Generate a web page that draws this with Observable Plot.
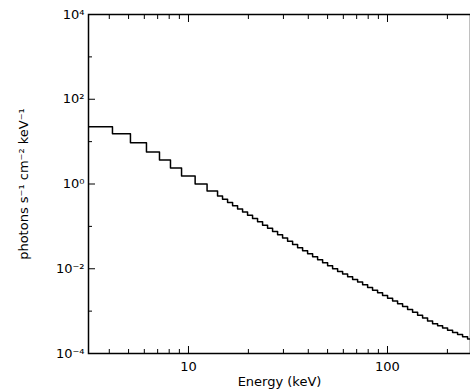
<!DOCTYPE html>
<html><head><meta charset="utf-8">
<script src="https://cdn.jsdelivr.net/npm/d3@7"></script>
<script src="https://cdn.jsdelivr.net/npm/@observablehq/plot@0.6"></script>
<style>body{margin:0;background:#fff;font-family:"DejaVu Sans",sans-serif;}</style>
</head><body><div id="chart"></div>
<script>
// Histogram bin edges (keV) and photon flux per bin
const binEdges = [3.145, 4.15, 5.11, 6.15, 7.15, 8.12, 9.23, 10.8, 12.4,
  14.00, 14.83, 15.72, 16.66, 17.65, 18.70, 19.81, 20.99, 22.24, 23.57, 24.97,
  26.46, 28.04, 29.71, 31.48, 33.36, 35.34, 37.45, 39.68, 42.05, 44.55,
  47.21, 50.02, 52.99, 56.16, 59.50, 63.05, 66.80, 70.78, 75.00, 79.47,
  84.14, 89.18, 94.48, 100.1, 106.1, 112.4, 119.1, 126.2, 133.7, 141.7,
  150.1, 159.0, 168.5, 178.6, 189.2, 200.4, 212.4, 225.0, 238.4, 252.6, 261.3];
const flux = [22.5, 15.4, 9.4, 5.7, 3.7, 2.4, 1.55, 1.0, 0.68,
  0.523, 0.438, 0.367, 0.308, 0.258, 0.217, 0.182, 0.153, 0.128, 0.107,
  0.0901, 0.0757, 0.0634, 0.0532, 0.0447, 0.0375, 0.0314, 0.0267, 0.0226, 0.0192,
  0.0163, 0.0138, 0.0117, 0.0100, 0.00865, 0.00748, 0.00647, 0.00560, 0.00485, 0.00420,
  0.00363, 0.00313, 0.00270, 0.00233, 0.00201, 0.00174, 0.00150, 0.00128, 0.00109, 0.000935,
  0.000800, 0.000685, 0.000586, 0.000507, 0.000450, 0.000399, 0.000354, 0.000314, 0.000279, 0.000247,
  0.000219];
const xMajorTicks = [10, 100];
const xMinorTicks = [4, 5, 6, 7, 8, 9, 20, 30, 40, 50, 60, 70, 80, 90, 200];
const yLabelTicks = [1e-4, 1e-2, 1, 1e2, 1e4];
const yMinorTicks = [1e-3, 1e-1, 10, 1e3];
const yTickText = ["10⁻⁴", "10⁻²", "10⁰", "10²", "10⁴"];

const steps = binEdges.map((e, i) => ({E: e, F: flux[Math.min(i, flux.length - 1)]}));

const chart = Plot.plot({
  width: 470, height: 392,
  marginLeft: 88, marginRight: 0, marginTop: 14, marginBottom: 39,
  style: {fontFamily: "DejaVu Sans, sans-serif", fontSize: "13px", color: "#000"},
  x: {type: "log", domain: [3.145, 261.3]},
  y: {type: "log", domain: [1e-4, 1e4]},
  marks: [
    Plot.frame({stroke: "#000", strokeWidth: 1.5}),
    Plot.axisX(xMajorTicks, {anchor: "bottom", tickSize: -7, tickPadding: 15, tickFormat: d => String(d), label: "Energy (keV)", labelAnchor: "center", labelOffset: 32, labelArrow: false}),
    Plot.axisX(xMinorTicks, {anchor: "bottom", tickSize: -4, tickFormat: () => "", label: null}),
    Plot.axisX(xMajorTicks, {anchor: "top", tickSize: -7, tickFormat: () => "", label: null}),
    Plot.axisX(xMinorTicks, {anchor: "top", tickSize: -4, tickFormat: () => "", label: null}),
    Plot.axisY(yLabelTicks, {anchor: "left", tickSize: -7, tickPadding: 11, tickFormat: d => yTickText[yLabelTicks.indexOf(d)], label: "photons s⁻¹ cm⁻² keV⁻¹", labelAnchor: "center", labelOffset: 70, labelArrow: false}),
    Plot.axisY(yMinorTicks, {anchor: "left", tickSize: -4, tickFormat: () => "", label: null}),
    Plot.line(steps, {x: "E", y: "F", curve: "step-after", stroke: "#000", strokeWidth: 1.5, clip: true})
  ]
});
document.getElementById("chart").appendChild(chart);
</script></body></html>
